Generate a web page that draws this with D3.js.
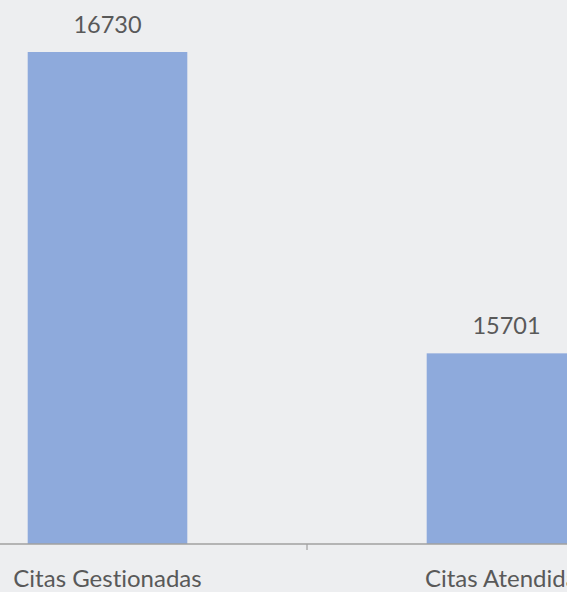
<!DOCTYPE html>
<html>
<head>
<meta charset="utf-8">
<script src="https://cdn.jsdelivr.net/npm/d3@7"></script>
<style>
  html, body { margin: 0; padding: 0; background: #edeef0; overflow: hidden; }
  svg { display: block; }
  text { font-variant-ligatures: none; font-feature-settings: "liga" 0; }
</style>
</head>
<body>
<svg id="chart"></svg>
<script>
(function(d3) {
    'use strict';

    // data
    var categories = ['Citas Gestionadas', 'Citas Atendidas'];
    var values = [16730, 15701];
    var yDomain = [15050, 16730];

    var width = 567, height = 592;
    var baseY = 544;

    var svg = d3.select('#chart')
        .attr('width', width)
        .attr('height', height);

    svg.append('rect')
        .attr('width', width)
        .attr('height', height)
        .attr('fill', '#edeef0');

    // plot area extends past the right edge (chart is cropped)
    var x = d3.scaleBand()
        .domain(categories)
        .range([-92, 706])
        .padding(0);

    var y = d3.scaleLinear()
        .domain(yDomain)
        .range([baseY, 52]);

    var barW = x.bandwidth() * 0.4;

    svg.selectAll('rect.bar')
        .data(values)
        .enter().append('rect')
        .attr('class', 'bar')
        .attr('x', function(d, i) { return x(categories[i]) + (x.bandwidth() - barW) / 2; })
        .attr('y', function(d) { return y(d); })
        .attr('width', barW)
        .attr('height', function(d) { return baseY - y(d); })
        .attr('fill', '#8eaadc');

    svg.selectAll('text.value')
        .data(values)
        .enter().append('text')
        .attr('class', 'value')
        .attr('x', function(d, i) { return x(categories[i]) + x.bandwidth() / 2; })
        .attr('y', function(d) { return y(d) - 19; })
        .attr('text-anchor', 'middle')
        .attr('font-family', 'Lato, "Open Sans", sans-serif')
        .attr('font-size', 23.5)
        .attr('fill', '#595959')
        .text(function(d) { return d; });

    // x axis
    var axis = d3.axisBottom(x)
        .tickSize(0)
        .tickPadding(0);

    var gx = svg.append('g')
        .attr('transform', 'translate(0,' + baseY + ')')
        .call(axis);

    gx.select('.domain').remove();
    gx.append('line')
        .attr('x1', 0).attr('x2', width)
        .attr('stroke', '#a0a0a0')
        .attr('stroke-width', 1.5);

    // tick between the categories
    gx.append('line')
        .attr('x1', x(categories[1])).attr('x2', x(categories[1]))
        .attr('y1', 0).attr('y2', 6)
        .attr('stroke', '#a0a0a0')
        .attr('stroke-width', 1.2);

    gx.selectAll('.tick text')
        .attr('y', 43)
        .attr('dy', 0)
        .attr('font-family', 'Lato, "Open Sans", sans-serif')
        .attr('font-size', 24)
        .attr('fill', '#595959');

}(d3));
</script>
</body>
</html>
